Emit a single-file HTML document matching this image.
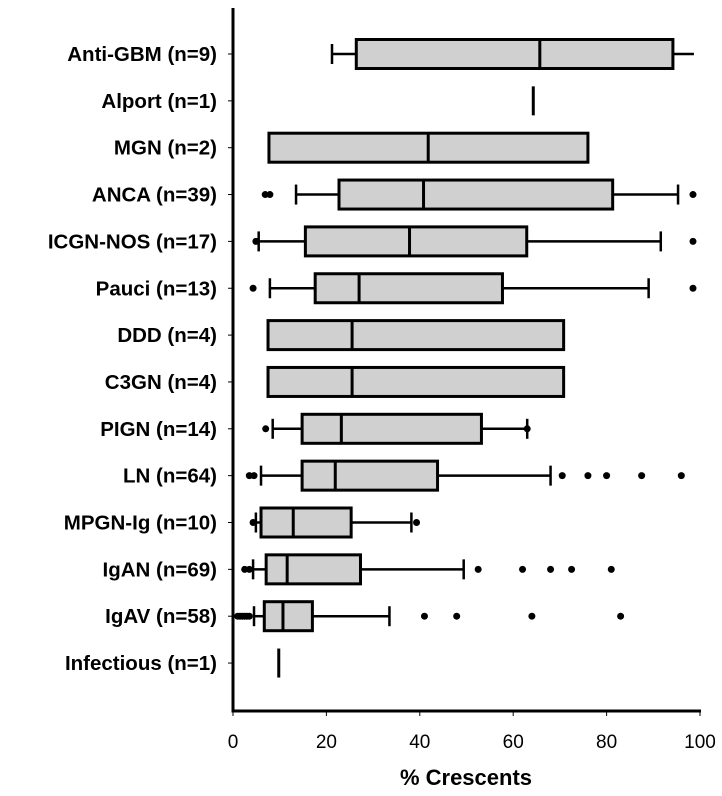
<!DOCTYPE html>
<html><head><meta charset="utf-8"><style>
html,body{margin:0;padding:0;background:#fff;}
svg{display:block;font-family:"Liberation Sans",Arial,sans-serif;}
</style></head><body>
<svg id="chart" width="722" height="796"></svg>
<script>
const categories=["Anti-GBM (n=9)","Alport (n=1)","MGN (n=2)","ANCA (n=39)","ICGN-NOS (n=17)","Pauci (n=13)","DDD (n=4)","C3GN (n=4)","PIGN (n=14)","LN (n=64)","MPGN-Ig (n=10)","IgAN (n=69)","IgAV (n=58)","Infectious (n=1)"];
const whiskerLow=[21.2,null,null,13.5,5.5,7.9,null,null,8.5,6,4.9,4.3,4.5,null];
const q1=[26.4,64.3,7.7,22.7,15.5,17.6,7.5,7.5,14.8,14.8,6,7.1,6.7,9.8];
const median=[65.7,64.3,41.8,40.8,37.8,27,25.5,25.5,23.2,21.9,12.9,11.6,10.7,9.8];
const q3=[94.2,64.3,76,81.3,62.9,57.7,70.8,70.8,53.2,43.8,25.3,27.3,17,9.8];
const whiskerHigh=[98.7,null,null,95.3,91.6,89,null,null,63,68,38.2,49.4,33.5,null];
const outliers=[[],[],[],[6.9,7.9,98.5],[4.9,98.5],[4.3,98.5],[],[],[7,63],[3.5,4.5,70.5,76,80,87.5,96],[4.3,39.3],[2.5,3.5,52.5,62,68,72.5,81],[1,1.5,2,2.5,3,3.5,41,47.9,64,83],[]];
const capHigh=[false,null,null,true,true,true,null,null,true,true,true,true,true,null];
const xTicks=[0,20,40,60,80,100];

const NS="http://www.w3.org/2000/svg";
const svg=document.getElementById('chart');
const X0=233,X1=700,Y0=54,DY=46.85,BH=29,AXY=711;
const xs=v=>X0+(v/100)*(X1-X0);
const ys=i=>Y0+i*DY;
function mk(tag,attrs,parent){const e=document.createElementNS(NS,tag);for(const k in attrs)e.setAttribute(k,attrs[k]);(parent||svg).appendChild(e);return e;}

let ya=mk('line',{x1:X0,y1:8,x2:X0,y2:AXY,stroke:'#000','stroke-width':3});


let xa=mk('line',{x1:X0-1.5,y1:AXY,x2:X1+1,y2:AXY,stroke:'#000','stroke-width':3});


xTicks.forEach(t=>{
  let tk=mk('line',{x1:xs(t),y1:AXY,x2:xs(t),y2:AXY+5,stroke:'#000','stroke-width':1});
  
  
  let tl=mk('text',{x:xs(t),y:AXY+37,'text-anchor':'middle','font-size':19,fill:'#000'});
  tl.textContent=t;
  
  
});
let tt=mk('text',{x:466,y:785,'text-anchor':'middle','font-size':22,'font-weight':'bold',fill:'#000'});
tt.textContent='% Crescents';



categories.forEach((c,i)=>{
  const y=ys(i);
  let g=mk('g',{});
  
  
  mk('line',{x1:X0-5,y1:y,x2:X0,y2:y,stroke:'#000','stroke-width':1},g);
  let lab=mk('text',{x:217,y:y+7,'text-anchor':'end','font-size':20.5,'font-weight':'bold',fill:'#000'},g);
  lab.textContent=c;
  
  
  if(whiskerLow[i]!=null){
    mk('line',{x1:xs(whiskerLow[i]),y1:y,x2:xs(q1[i]),y2:y,stroke:'#000','stroke-width':2.5},g);
    mk('line',{x1:xs(whiskerLow[i]),y1:y-10,x2:xs(whiskerLow[i]),y2:y+10,stroke:'#000','stroke-width':2.5},g);
  }
  if(whiskerHigh[i]!=null){
    mk('line',{x1:xs(q3[i]),y1:y,x2:xs(whiskerHigh[i]),y2:y,stroke:'#000','stroke-width':2.5},g);
    if(capHigh[i])mk('line',{x1:xs(whiskerHigh[i]),y1:y-10,x2:xs(whiskerHigh[i]),y2:y+10,stroke:'#000','stroke-width':2.5},g);
  }
  if(q3[i]>q1[i]){
    mk('rect',{x:xs(q1[i]),y:y-BH/2,width:xs(q3[i])-xs(q1[i]),height:BH,fill:'#d0d0d0',stroke:'#000','stroke-width':3},g);
  }
  mk('line',{x1:xs(median[i]),y1:y-BH/2,x2:xs(median[i]),y2:y+BH/2,stroke:'#000','stroke-width':3},g);
  outliers[i].forEach(v=>{
    let d=mk('circle',{cx:xs(v),cy:y,r:3.5,fill:'#000'},g);
    
    
  });
});
</script>
</body></html>
